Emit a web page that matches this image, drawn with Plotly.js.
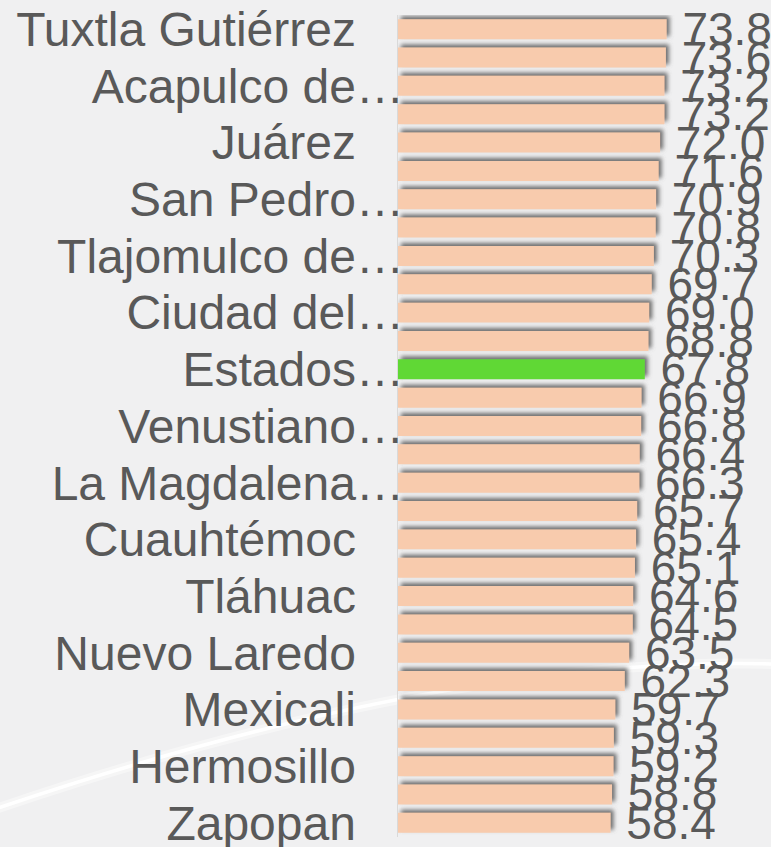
<!DOCTYPE html>
<html>
<head>
<meta charset="utf-8">
<script src="https://cdn.plot.ly/plotly-3.0.1.min.js"></script>
<style>
  html, body { margin: 0; padding: 0; background: #f0f0f1; }
  #grafikoa { width: 771px; height: 847px; }
  /* barren itzala */
  #grafikoa .barlayer .point path { filter: url(#itzala); }
</style>
</head>
<body>
<svg width="0" height="0" style="position:absolute">
  <defs>
    <filter id="itzala" x="-5%" y="-80%" width="115%" height="260%">
      <feDropShadow dx="3" dy="-3" stdDeviation="2.2" flood-color="#5e5e5e" flood-opacity="0.9"/>
    </filter>
  </defs>
</svg>
<div id="grafikoa"></div>
<script>
// Balioak, goitik behera
let values = [73.8, 73.6, 73.2, 73.2, 72.0, 71.6, 70.9, 70.8, 70.3, 69.7,
              69.0, 68.8, 67.8, 66.9, 66.8, 66.4, 66.3, 65.7, 65.4, 65.1,
              64.6, 64.5, 63.5, 62.3, 59.7, 59.3, 59.2, 58.8, 58.4]

// Ikusten diren etiketak (bi barratik behin)
let labels = ["Tuxtla Gutiérrez", "Acapulco de…", "Juárez", "San Pedro…",
              "Tlajomulco de…", "Ciudad del…", "Estados…", "Venustiano…",
              "La Magdalena…", "Cuauhtémoc", "Tláhuac", "Nuevo Laredo",
              "Mexicali", "Hermosillo", "Zapopan"]

let highlight = 12   // Estados… barra berdea
let baseColor = "#f8cbad"
let highlightColor = "#61d836"

window.onload = function(){
    plot()
}

function plot(){
    let positions = values.map((v, i) => i)
    let colors = values.map((v, i) => i == highlight ? highlightColor : baseColor)
    let tickvals = labels.map((l, i) => i * 2)
    // "…" gabekoei em-espazio bat gehitu, jatorrizkoan bezala lerrokatzeko
    let ticktext = labels.map(l => l.endsWith("…") ? l : l + "\u2003")

    let data = [{
        type: "bar",
        orientation: "h",
        x: values,
        y: positions,
        marker: {color: colors},
        text: values.map(v => "\u00a0" + v.toFixed(1)),
        textposition: "outside",
        textfont: {family: "Liberation Sans, Arial, sans-serif", size: 46, color: "#595959"},
        constraintext: "none",
        cliponaxis: false,
        hoverinfo: "none"
    }]

    let layout = {
        width: 771,
        height: 847,
        margin: {l: 398, r: 9, t: 15, b: 10},
        paper_bgcolor: "#f0f0f1",
        plot_bgcolor: "rgba(0,0,0,0)",
        bargap: 0.295,
        showlegend: false,
        font: {family: "Liberation Sans, Arial, sans-serif", color: "#595959"},
        xaxis: {range: [0, 100], showgrid: false, zeroline: false, showticklabels: false, showline: false},
        yaxis: {
            range: [values.length - 0.5, -0.5],
            tickmode: "array",
            tickvals: tickvals,
            ticktext: ticktext,
            tickfont: {size: 48, color: "#595959"},
            ticklabeloverflow: "allow",
            ticklabelstandoff: -17,
            ticks: "",
            showgrid: false,
            zeroline: false,
            showline: true,
            linecolor: "#d9d9d9",
            linewidth: 1.5
        },
        shapes: [
            {type: "path", xref: "paper", yref: "paper", layer: "below",
             path: "M -1.1,0.035 Q 0.143,0.221 1.03,0.2105",
             line: {color: "rgba(255,255,255,0.4)", width: 10}},
            {type: "path", xref: "paper", yref: "paper", layer: "below",
             path: "M -1.1,0.035 Q 0.143,0.221 1.03,0.2105",
             line: {color: "#ffffff", width: 3.5}}
        ]
    }

    Plotly.newPlot("grafikoa", data, layout, {displayModeBar: false, staticPlot: true})
}
</script>
</body>
</html>
